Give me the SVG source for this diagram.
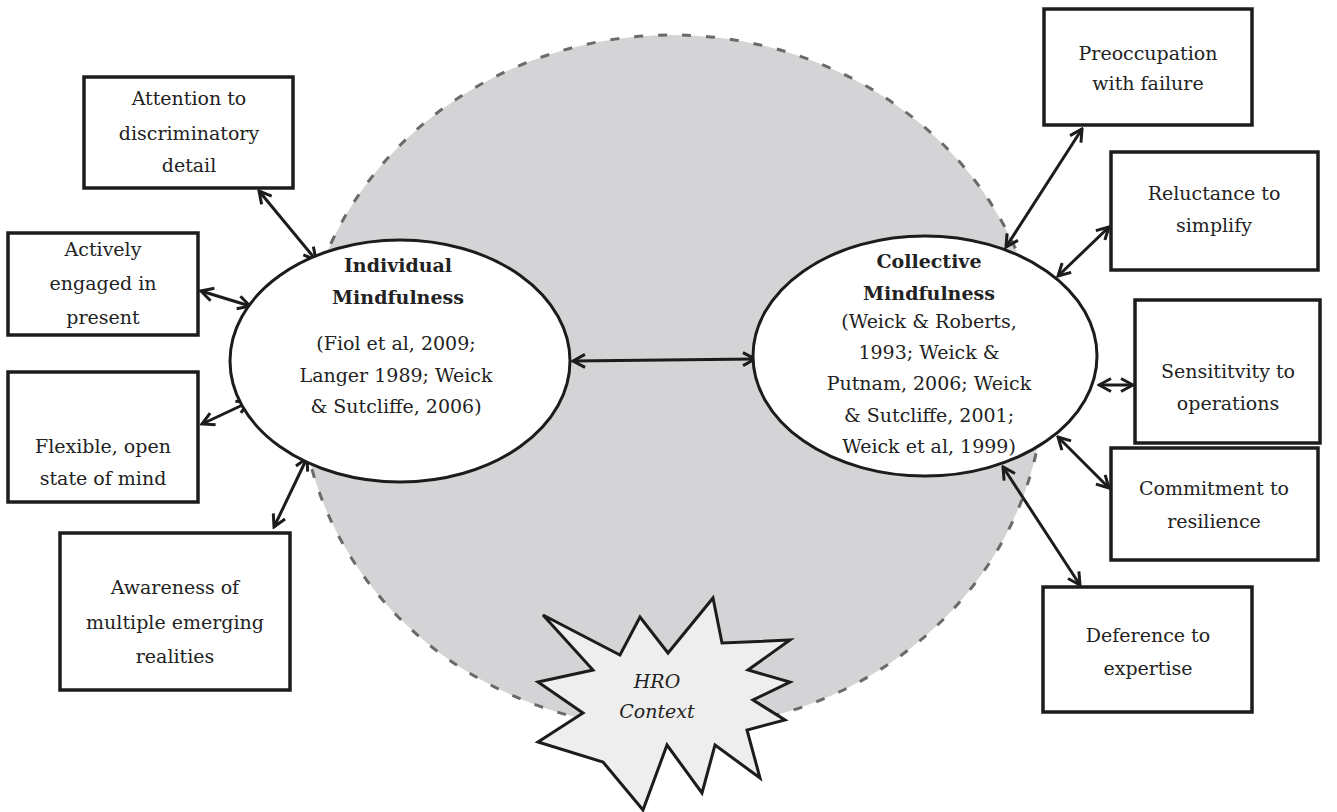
<svg xmlns="http://www.w3.org/2000/svg" width="1337" height="812" viewBox="0 0 1337 812">
<defs>
<style>
.box{fill:#fff;stroke:#1c1c1c;stroke-width:3.5}
.t{font-family:"DejaVu Serif","Liberation Serif",serif;font-size:19px;fill:#222;text-anchor:middle}
.b{font-weight:bold}
.i{font-style:italic}
.ell{fill:#fff;stroke:#1c1c1c;stroke-width:3}
.arr{fill:none;stroke:#1c1c1c;stroke-width:3;marker-start:url(#ah);marker-end:url(#ah)}
</style>
<marker id="ah" viewBox="0 0 16 16" refX="14" refY="8" markerWidth="16" markerHeight="16" orient="auto-start-reverse" markerUnits="userSpaceOnUse">
<path d="M2,1.5 L14,8 L2,14.5" fill="none" stroke="#1c1c1c" stroke-width="3"/>
</marker>
</defs>
<rect width="1337" height="812" fill="#fff"/>
<g id="hro-field">
<ellipse cx="672" cy="382" rx="372" ry="347" fill="#d4d4d6" stroke="#6a6a6a" stroke-width="3" stroke-dasharray="9 15"/>
</g>
<g id="connectors">
<line class="arr" x1="259" y1="191" x2="316" y2="260"/>
<line class="arr" x1="201" y1="291" x2="250" y2="306"/>
<line class="arr" x1="202" y1="424" x2="249" y2="402"/>
<line class="arr" x1="307" y1="458" x2="274" y2="527"/>
<line class="arr" x1="573" y1="361" x2="755" y2="359"/>
<line class="arr" x1="1082" y1="129" x2="1006" y2="247"/>
<line class="arr" x1="1109" y1="227" x2="1058" y2="276"/>
<line class="arr" x1="1099" y1="385" x2="1133" y2="385"/>
<line class="arr" x1="1058" y1="437" x2="1109" y2="488"/>
<line class="arr" x1="1003" y1="467" x2="1080" y2="585"/>
</g>
<g id="individual">
<ellipse class="ell" cx="400" cy="361" rx="170" ry="121"/>
<text class="t b" x="398" y="272">Individual</text>
<text class="t b" x="398" y="304">Mindfulness</text>
<text class="t" x="396" y="350">(Fiol et al, 2009;</text>
<text class="t" x="396" y="382">Langer 1989; Weick</text>
<text class="t" x="396" y="413">&amp; Sutcliffe, 2006)</text>
</g>
<g id="collective">
<ellipse class="ell" cx="925" cy="356" rx="172" ry="120"/>
<text class="t b" x="929" y="268">Collective</text>
<text class="t b" x="929" y="300">Mindfulness</text>
<text class="t" x="929" y="328">(Weick &amp; Roberts,</text>
<text class="t" x="929" y="359">1993; Weick &amp;</text>
<text class="t" x="929" y="390">Putnam, 2006; Weick</text>
<text class="t" x="929" y="422">&amp; Sutcliffe, 2001;</text>
<text class="t" x="929" y="453">Weick et al, 1999)</text>
</g>
<g id="attention">
<rect class="box" x="84" y="77" width="209" height="111"/>
<text class="t" x="189" y="105">Attention to</text>
<text class="t" x="189" y="140">discriminatory</text>
<text class="t" x="189" y="172">detail</text>
</g>
<g id="actively">
<rect class="box" x="8" y="233" width="190" height="102"/>
<text class="t" x="103" y="256">Actively</text>
<text class="t" x="103" y="290">engaged in</text>
<text class="t" x="103" y="324">present</text>
</g>
<g id="flexible">
<rect class="box" x="8" y="372" width="190" height="130"/>
<text class="t" x="103" y="453">Flexible, open</text>
<text class="t" x="103" y="485">state of mind</text>
</g>
<g id="awareness">
<rect class="box" x="60" y="533" width="230" height="157"/>
<text class="t" x="175" y="594">Awareness of</text>
<text class="t" x="175" y="629">multiple emerging</text>
<text class="t" x="175" y="663">realities</text>
</g>
<g id="preoccupation">
<rect class="box" x="1044" y="9" width="208" height="116"/>
<text class="t" x="1148" y="60">Preoccupation</text>
<text class="t" x="1148" y="90">with failure</text>
</g>
<g id="reluctance">
<rect class="box" x="1111" y="152" width="207" height="118"/>
<text class="t" x="1214" y="200">Reluctance to</text>
<text class="t" x="1214" y="232">simplify</text>
</g>
<g id="sensitivity">
<rect class="box" x="1135" y="300" width="185" height="143"/>
<text class="t" x="1228" y="378">Sensititvity to</text>
<text class="t" x="1228" y="410">operations</text>
</g>
<g id="commitment">
<rect class="box" x="1111" y="448" width="207" height="112"/>
<text class="t" x="1214" y="495">Commitment to</text>
<text class="t" x="1214" y="528">resilience</text>
</g>
<g id="deference">
<rect class="box" x="1043" y="587" width="209" height="125"/>
<text class="t" x="1148" y="642">Deference to</text>
<text class="t" x="1148" y="675">expertise</text>
</g>
<g id="hro-context">
<path d="M713,598 L722,643 L790,640 L748,670 L790,682 L753,700 L785,720 L747,730 L760,778 L715,745 L702,793 L667,745 L643,810 L603,762 L538,742 L583,713 L538,682 L593,670 L543,615 L620,655 L640,617 L668,653 Z" fill="#eeeeee" stroke="#1c1c1c" stroke-width="3" stroke-linejoin="miter"/>
<text class="t i" x="657" y="688">HRO</text>
<text class="t i" x="657" y="718">Context</text>
</g>
</svg>
